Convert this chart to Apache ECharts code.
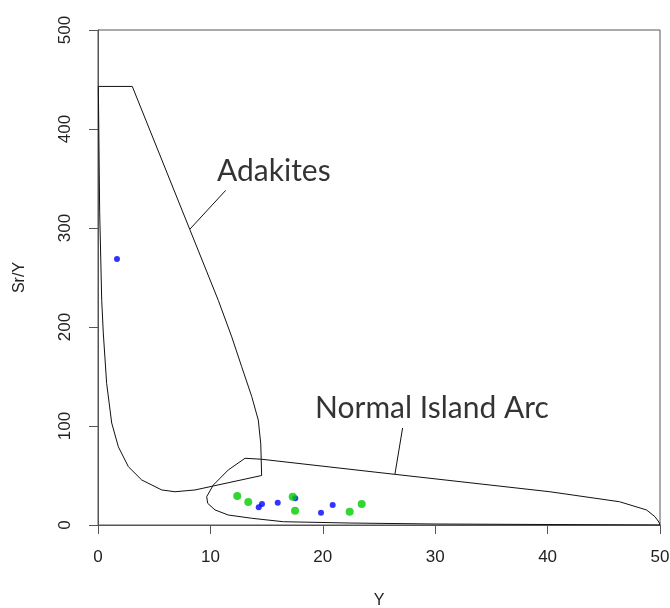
<!DOCTYPE html>
<html>
<head>
<meta charset="utf-8">
<script src="https://cdn.jsdelivr.net/npm/echarts@6/dist/echarts.min.js"></script>
<style>
  html, body { margin: 0; padding: 0; background: #fff; }
  #chart { width: 670px; height: 608px; }
</style>
</head>
<body>
<div id="chart"></div>
<script>
// axis ticks
const xTicks = [0, 10, 20, 30, 40, 50];
const yTicks = [0, 100, 200, 300, 400, 500];

// field outlines as [Y, Sr/Y]
const adakiteOutline = [
  [0.03, 443], [3.05, 443], [10.7, 227], [11.9, 190], [12.78, 160], [13.67, 130],
  [14.26, 106], [14.48, 82], [14.56, 50], [10.26, 39.4], [8.63, 35.4], [6.85, 33.6],
  [5.67, 35.4], [3.89, 45.5], [2.7, 58.9], [1.81, 79], [1.22, 103], [0.77, 143],
  [0.47, 194], [0.33, 227], [0.15, 316], [0.03, 316], [0.03, 443]
];
const arcOutline = [
  [13.08, 67.4], [14.56, 66.4], [24.2, 54], [40.2, 33.6], [46.4, 23.5], [48.8, 15.2],
  [49.55, 8.4], [49.9, 3], [50, 0], [30, 1], [22.4, 2], [16.5, 3.3], [13.67, 6.8],
  [11.59, 10.1], [10.41, 15.2], [9.76, 21.9], [9.67, 28.6], [10.26, 40.4],
  [11.59, 55.6], [13.08, 67.4]
];
const adakiteLeader = [[11.36, 338], [8.19, 299]];
const arcLeader = [[27.1, 98], [26.42, 51.5]];

// field labels: [Y, Sr/Y, text]
const fieldLabels = [
  [10.59, 357, "Adakites"],
  [19.31, 118, "Normal Island Arc"]
];

// samples
const blueY   = [1.69, 14.3, 14.59, 15.99, 17.55, 19.84, 20.88];
const blueSrY = [268.7, 17.9, 21.2, 22.5, 27.0, 12.4, 20.2];
const greenY   = [12.39, 13.37, 17.32, 17.53, 22.39, 23.46];
const greenSrY = [29.3, 23.2, 28.6, 14.4, 13.4, 21.2];

const axisFont = "Liberation Sans, Arial, sans-serif";
const axisColor = "#555";

const outline = (data) => ({
  type: "line",
  data: data,
  symbol: "none",
  lineStyle: { color: "#111", width: 1 },
  silent: true,
  z: 2
});

const chart = echarts.init(document.getElementById("chart"));
chart.setOption({
  animation: false,
  backgroundColor: "#fff",
  grid: {
    left: 98, right: 10, top: 30, bottom: 83,
    containLabel: false, outerBoundsMode: "none",
    show: true, borderColor: axisColor, borderWidth: 1
  },
  xAxis: {
    type: "value",
    min: xTicks[0], max: xTicks[xTicks.length - 1], interval: 10,
    name: "Y", nameLocation: "middle", nameGap: 68,
    nameTextStyle: { fontFamily: axisFont, fontSize: 16, color: "#222" },
    axisLine: { show: true, lineStyle: { color: axisColor } },
    axisTick: { show: true, inside: false, length: 9, lineStyle: { color: axisColor } },
    axisLabel: { fontFamily: axisFont, fontSize: 17, color: "#222", margin: 24 },
    splitLine: { show: false }
  },
  yAxis: {
    type: "value",
    min: yTicks[0], max: yTicks[yTicks.length - 1], interval: 100,
    name: "Sr/Y", nameLocation: "middle", nameGap: 70, nameRotate: 90,
    nameTextStyle: { fontFamily: axisFont, fontSize: 16, color: "#222" },
    axisLine: { show: true, lineStyle: { color: axisColor } },
    axisTick: { show: true, inside: false, length: 9, lineStyle: { color: axisColor } },
    axisLabel: { fontFamily: axisFont, fontSize: 17, color: "#222", margin: 24, rotate: 90 },
    splitLine: { show: false }
  },
  series: [
    outline(adakiteOutline),
    outline(arcOutline),
    outline(adakiteLeader),
    outline(arcLeader),
    {
      type: "scatter",
      data: fieldLabels,
      symbolSize: 0,
      silent: true,
      label: {
        show: true,
        position: [0, 0],
        align: "left",
        verticalAlign: "middle",
        formatter: (p) => p.data[2],
        fontFamily: "Lato, 'Open Sans', sans-serif",
        fontSize: 30,
        color: "#000"
      }
    },
    {
      type: "scatter",
      data: blueY.map((y, i) => [y, blueSrY[i]]),
      symbolSize: 6,
      itemStyle: { color: "#0000FF" },
      z: 3
    },
    {
      type: "scatter",
      data: greenY.map((y, i) => [y, greenSrY[i]]),
      symbolSize: 8,
      itemStyle: { color: "#00CD00" },
      z: 3
    }
  ]
});
</script>
</body>
</html>
